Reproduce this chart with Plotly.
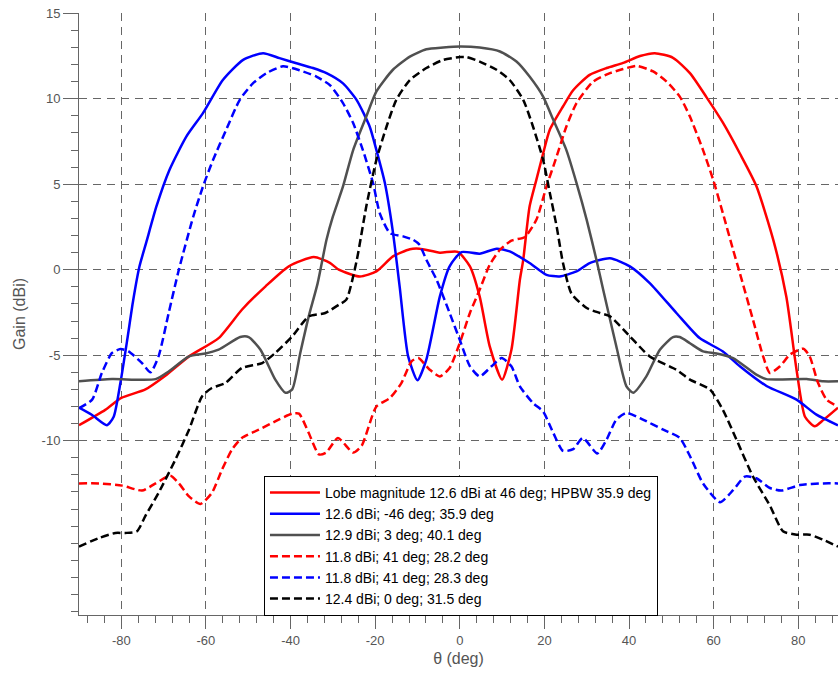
import plotly.graph_objects as go

# ---------------- data ----------------
x_tick_vals = [-80, -60, -40, -20, 0, 20, 40, 60, 80]
x_tick_text = ["-80", "-60", "-40", "-20", "0", "20", "40", "60", "80"]
y_tick_vals = [-10, -5, 0, 5, 10, 15]
y_tick_text = ["-10", "-5", "0", "5", "10", "15"]

series_names = [
    "Lobe magnitude 12.6 dBi at 46 deg; HPBW 35.9 deg",
    "12.6 dBi; -46 deg; 35.9 deg",
    "12.9 dBi; 3 deg; 40.1 deg",
    "11.8 dBi; 41 deg; 28.2 deg",
    "11.8 dBi; 41 deg; 28.3 deg",
    "12.4 dBi; 0 deg; 31.5 deg",
]

red_solid_theta = [-90, -83.8, -80, -74.3, -69.6, -64, -57, -51.5, -45.9, -40.4,
                   -34.5, -30.7, -28.6, -23.6, -19.7, -15.8, -11.8, -9.5, -4.7, -0.5,
                   2.4, 4.7, 7.1, 10, 12.2, 14.2, 15, 16.5, 18.1, 19.7,
                   21.3, 24.4, 26.8, 30.7, 34.7, 38.6, 42.6, 46.1, 50.4, 54.4,
                   58.3, 62.2, 66.2, 70.1, 74.1, 77.2, 79.6, 81.6, 83.9, 85.9, 89.4]
red_solid_gain = [-9.1, -8.2, -7.5, -7.0, -6.2, -5.07, -4.0, -2.34, -0.97, 0.2,
                  0.74, 0.4, 0.0, -0.4, -0.1, 0.78, 1.2, 1.23, 1.0, 1.05,
                  0.2, -1.56, -4.5, -6.43, -4.7, -0.6, 0.58, 3.7, 5.26, 6.8,
                  8.2, 9.55, 10.5, 11.4, 11.8, 12.1, 12.5, 12.67, 12.4, 11.5,
                  10.1, 8.6, 6.8, 4.9, 1.75, -1.6, -5.85, -8.6, -9.16, -8.8, -8.07]

blue_solid_theta = [-90, -86.9, -83.4, -81.8, -80.2, -78.6, -77.2, -75.7, -74.1, -71.7,
                    -68.6, -64.6, -60.7, -56, -51.2, -46.5, -42.6, -38.6, -34.7, -31.5,
                    -27.6, -24.4, -21.3, -19.7, -17.7, -15.8, -14.2, -12.2, -10, -7.9,
                    -4.7, -2.4, 0.4, 4.7, 8.7, 11.8, 16.5, 20.5, 23.6, 27.6,
                    30.7, 35.5, 40.2, 44.9, 51.2, 56.7, 62.2, 66.2, 72.5, 79.6, 84.3, 89.4]
blue_solid_gain = [-8.07, -8.5, -9.1, -8.6, -6.6, -4.1, -1.8, 0.2, 1.6, 3.7,
                   5.85, 7.8, 9.16, 11.1, 12.28, 12.67, 12.38, 12.08, 11.8, 11.5,
                   10.9, 9.94, 8.38, 7.0, 5.07, 2.2, -1.0, -5.07, -6.47, -5.26,
                   -1.56, 0.2, 1.03, 0.94, 1.23, 1.07, 0.39, -0.3, -0.39, -0.1,
                   0.39, 0.67, 0.2, -0.78, -2.53, -4.0, -4.78, -5.65, -6.8, -7.6, -8.48, -9.1]

gray_solid_theta = [-90, -82.2, -71.9, -68.8, -64, -60.1, -57, -51.9, -49.9, -47.1,
                    -43.6, -41.2, -39.6, -37.7, -35.7, -33.6, -31.5, -30, -27.6, -25.2,
                    -22.1, -19.7, -15.8, -11.8, -7.9, -3.9, 0, 4.7, 9.5, 13.4,
                    16.5, 19.7, 22.1, 25.2, 27.6, 30, 32.3, 33.9, 37, 39.4,
                    41, 44.1, 47.3, 50.4, 52, 54.4, 57.5, 60.7, 64.6, 70.1,
                    72.5, 82, 85.9, 89.4]
gray_solid_gain = [-6.53, -6.4, -6.4, -5.95, -5.07, -4.9, -4.68, -3.94, -3.94, -4.68,
                   -6.43, -7.2, -7.0, -4.87, -2.73, -0.8, 1.75, 3.1, 4.87, 7.0,
                   8.96, 10.43, 11.7, 12.47, 12.9, 13.0, 13.06, 13.0, 12.77, 12.18,
                   11.3, 10.13, 8.77, 7.0, 5.07, 2.92, 0.58, -1.17, -4.48, -6.82,
                   -7.2, -6.24, -4.68, -3.94, -3.94, -4.3, -4.78, -4.9, -5.17, -6.14,
                   -6.4, -6.4, -6.53, -6.53]

red_dash_theta = [-90, -85.3, -79.8, -75.1, -71.9, -68.4, -66.4, -64, -61.3, -58.6,
                  -56.2, -53.8, -51.5, -47.5, -42.8, -39.6, -38, -35.7, -33.3, -31.6,
                  -28.8, -25.2, -23.2, -19.7, -16.5, -13.8, -11.4, -9.8, -7.1, -4.7,
                  -2.4, 0, 2.4, 4.7, 7.1, 9.5, 12.2, 15.4, 18.1, 20.5,
                  22.9, 25.2, 27.6, 31.5, 35.5, 38.6, 41.8, 45.7, 48.9, 52,
                  54.4, 57.5, 59.9, 62.2, 64.6, 66.2, 69.3, 71.7, 73.3, 75.7,
                  78, 81.2, 82.7, 84.7, 86.7, 89.4]
red_dash_gain = [-12.5, -12.5, -12.63, -12.92, -12.5, -12.05, -12.5, -13.26, -13.7, -13.06,
                 -11.7, -10.5, -9.84, -9.36, -8.77, -8.42, -8.42, -9.55, -10.8, -10.7,
                 -9.85, -10.7, -10.3, -8.0, -7.5, -6.63, -5.36, -5.17, -5.85, -6.24,
                 -5.75, -4.29, -2.53, -1.17, 0.3, 1.17, 1.7, 1.92, 2.92, 4.87,
                 6.63, 8.38, 9.75, 11.0, 11.5, 11.74, 11.93, 11.6, 11.0, 10.13,
                 8.96, 7.0, 5.26, 3.3, 1.17, -0.2, -2.92, -5.07, -6.04, -5.65,
                 -4.97, -4.62, -5.07, -6.63, -7.6, -8.0]

blue_dash_theta = [-90, -86.9, -84.6, -82.2, -80.2, -78.3, -75.1, -73.1, -71.2, -68.8,
                   -66.4, -63, -60.7, -58.3, -55.2, -52, -48.9, -45.7, -41.8, -37.8,
                   -33.9, -30.7, -27.6, -25.2, -22.9, -20.5, -18.9, -16.5, -13.4, -11,
                   -9.5, -7.9, -5.5, -2.4, 0, 2.4, 4.7, 7.5, 9.9, 12.2,
                   14.2, 17.3, 19.7, 22.1, 24.4, 26.8, 29.1, 32.5, 34.7, 37,
                   39.4, 43.3, 48.1, 52, 54.4, 57.5, 61.5, 64.6, 67.4, 70.1,
                   73.3, 76, 80.4, 85.9, 89.4]
blue_dash_gain = [-8.1, -7.6, -6.04, -4.87, -4.64, -4.78, -5.46, -6.0, -5.07, -2.53,
                  0.0, 3.1, 4.87, 6.43, 8.2, 9.94, 10.9, 11.5, 11.9, 11.66,
                  11.3, 10.8, 9.75, 8.58, 7.0, 5.07, 3.3, 2.14, 1.95, 1.75,
                  1.46, 0.58, -0.58, -2.53, -4.1, -5.65, -6.24, -5.65, -5.17, -5.65,
                  -6.82, -7.8, -8.3, -9.55, -10.6, -10.5, -9.84, -10.75, -9.94, -8.77,
                  -8.38, -8.77, -9.36, -9.84, -10.9, -12.5, -13.6, -12.9, -12.1, -12.2,
                  -12.77, -12.92, -12.6, -12.5, -12.5]

black_dash_theta = [-90, -85.3, -81.4, -79, -76.3, -74.3, -71.2, -67.2, -64, -60.9,
                    -58.6, -55.4, -51.5, -46.7, -43.6, -39.6, -35.7, -31.8, -28.6, -26.8,
                    -24.4, -22.1, -19.7, -17.3, -15, -11.8, -7.9, -3.9, 0, 1.6,
                    4.7, 8.7, 11.8, 15, 17.3, 19.7, 21.3, 22.9, 24.4, 26.4,
                    30, 33.1, 35.5, 40.2, 44.9, 51.2, 54.4, 59.1, 62.2, 65.4,
                    69.3, 73.3, 76.4, 79.6, 82.7, 85.9, 89.4]
black_dash_gain = [-16.2, -15.7, -15.4, -15.4, -15.3, -14.4, -13.06, -11.1, -9.36, -7.4,
                   -6.92, -6.63, -5.75, -5.46, -4.87, -3.9, -2.73, -2.53, -2.05, -1.75,
                   0.5, 3.7, 6.43, 8.38, 9.94, 11.1, 11.8, 12.28, 12.44, 12.44,
                   12.18, 11.7, 11.1, 9.94, 8.38, 6.43, 4.48, 2.53, 0.39, -1.4,
                   -2.24, -2.53, -2.73, -3.9, -5.07, -5.85, -6.43, -7.0, -8.2, -9.94,
                   -12.1, -13.8, -15.3, -15.5, -15.5, -15.8, -16.2]

# ---------------- styles ----------------
FONT = "Liberation Sans, Arial, sans-serif"
AXIS_GRAY = "#666666"
TEXT_GRAY = "#555555"
DASH = "8px,4px"

series = [
    (red_solid_theta, red_solid_gain, "#ff0000", "solid"),
    (blue_solid_theta, blue_solid_gain, "#0000ff", "solid"),
    (gray_solid_theta, gray_solid_gain, "#505050", "solid"),
    (red_dash_theta, red_dash_gain, "#ff0000", DASH),
    (blue_dash_theta, blue_dash_gain, "#0000ff", DASH),
    (black_dash_theta, black_dash_gain, "#000000", DASH),
]

fig = go.Figure()
for (xs, ys, color, dash), name in zip(series, series_names):
    fig.add_trace(go.Scatter(
        x=xs, y=ys, mode="lines", name=name,
        line=dict(color=color, width=2.5, dash=dash, shape="spline", smoothing=0.6),
    ))

fig.update_layout(
    width=838, height=679,
    margin=dict(l=79, r=0, t=13, b=64),
    paper_bgcolor="white", plot_bgcolor="white",
    font=dict(family=FONT, size=13, color=TEXT_GRAY),
    showlegend=True,
    legend=dict(
        x=0.2437, y=0.2309, xanchor="left", yanchor="top",
        bgcolor="white", bordercolor="black", borderwidth=1,
        font=dict(family=FONT, size=14, color="black"),
        tracegroupgap=0, itemwidth=50,
    ),
    xaxis=dict(
        range=[-90, 89.4],
        tickmode="array", tickvals=x_tick_vals, ticktext=x_tick_text,
        ticks="outside", ticklen=13, tickcolor=AXIS_GRAY, tickwidth=1,
        showline=True, linecolor=AXIS_GRAY, linewidth=1,
        showgrid=True, gridcolor=AXIS_GRAY, gridwidth=1, griddash="8px,6px",
        zeroline=False,
        minor=dict(dtick=4, tick0=0, ticks="outside", ticklen=7,
                   tickcolor=AXIS_GRAY, showgrid=False),
        tickfont=dict(family=FONT, size=13, color=TEXT_GRAY),
        title=dict(text="θ (deg)", font=dict(family=FONT, size=16, color=TEXT_GRAY),
                   standoff=6),
    ),
    yaxis=dict(
        range=[-20.2, 15.02],
        tickmode="array", tickvals=y_tick_vals, ticktext=y_tick_text,
        ticks="outside", ticklen=15, tickcolor=AXIS_GRAY, tickwidth=1,
        showline=True, linecolor=AXIS_GRAY, linewidth=1,
        showgrid=True, gridcolor=AXIS_GRAY, gridwidth=1, griddash="8px,6px",
        zeroline=False,
        minor=dict(dtick=1, tick0=0, ticks="outside", ticklen=7,
                   tickcolor=AXIS_GRAY, showgrid=False),
        tickfont=dict(family=FONT, size=13, color=TEXT_GRAY),
        title=dict(text="Gain (dBi)", font=dict(family=FONT, size=16, color=TEXT_GRAY),
                   standoff=12),
    ),
)

fig.write_html("out.html")
